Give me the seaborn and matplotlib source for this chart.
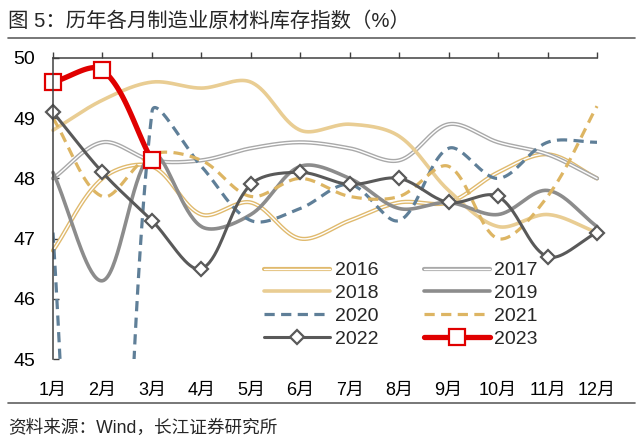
import numpy as np
import pandas as pd
import matplotlib
matplotlib.use("Agg")
import matplotlib.pyplot as plt
import seaborn as sns
from matplotlib.lines import Line2D

# data (manufacturing PMI raw material inventory index)
months = ["1月", "2月", "3月", "4月", "5月", "6月", "7月", "8月", "9月", "10月", "11月", "12月"]
y2016 = [46.8, 48.0, 48.2, 47.4, 47.6, 47.0, 47.3, 47.6, 47.6, 48.1, 48.4, 48.0]
y2017 = [48.0, 48.6, 48.3, 48.3, 48.5, 48.6, 48.5, 48.3, 48.9, 48.6, 48.4, 48.0]
y2018 = [48.8, 49.3, 49.6, 49.5, 49.6, 48.8, 48.9, 48.7, 47.8, 47.2, 47.4, 47.1]
y2019 = [48.1, 46.3, 48.4, 47.2, 47.4, 48.2, 48.0, 47.5, 47.6, 47.4, 47.8, 47.2]
y2020 = [47.1, 33.9, 49.1, 48.2, 47.3, 47.5, 47.9, 47.3, 48.5, 48.0, 48.6, 48.6]
y2021 = [49.0, 47.7, 48.4, 48.3, 47.7, 48.0, 47.7, 47.7, 48.2, 47.0, 47.7, 49.2]
y2022 = [49.1, 48.1, 47.3, 46.5, 47.9, 48.1, 47.9, 48.0, 47.6, 47.7, 46.7, 47.1]
y2023 = [49.6, 49.8, 48.3]

# pixel size of one x step / one y unit, used so the smoothing behaves like excel
SX, SY = 49.5, 60.0


def smooth(vals, n=40):
    # excel style smoothed line: bezier with control points scaled by segment length
    pts = np.column_stack([np.arange(1, len(vals) + 1) * SX, np.array(vals) * SY]).astype(float)
    pad = np.vstack([pts[0], pts, pts[-1]])
    out = []
    t = np.linspace(0, 1, n)[:, None]
    for i in range(len(pts) - 1):
        p0, p1, p2, p3 = pad[i], pad[i + 1], pad[i + 2], pad[i + 3]
        d01 = np.hypot(*(p1 - p0))
        d12 = np.hypot(*(p2 - p1))
        d23 = np.hypot(*(p3 - p2))
        c1 = p1 + (p2 - p0) * d12 / (d01 + d12) / 3
        c2 = p2 - (p3 - p1) * d12 / (d12 + d23) / 3
        seg = (1 - t) ** 3 * p1 + 3 * (1 - t) ** 2 * t * c1 + 3 * (1 - t) * t ** 2 * c2 + t ** 3 * p2
        out.append(seg if i == 0 else seg[1:])
    seg = np.vstack(out)
    return pd.DataFrame({"x": seg[:, 0] / SX, "y": seg[:, 1] / SY})


sns.set_theme(style="white")
plt.rcParams["font.family"] = ["Liberation Sans", "Noto Sans CJK SC", "DejaVu Sans"]

fig = plt.figure(figsize=(6.4, 4.43), dpi=100)
ax = fig.add_axes([53 / 640, 1 - 359 / 443, 544 / 640, 301 / 443])

tan = "#E0BA6E"
tan2 = "#E9CD93"
tan3 = "#DDB563"
grey_light = "#A9A9A9"
grey = "#8C8C8C"
blue = "#5F7F98"
dark = "#595959"
red = "#E00000"
dash = (0, (3.2, 2.0))


def draw(vals, clip=False, **kw):
    d = smooth(vals)
    sns.lineplot(data=d, x="x", y="y", ax=ax, estimator=None, sort=False, **kw)
    ax.lines[-1].set_clip_on(clip)


# 2016 double line
draw(y2016, color=tan, lw=3.0)
draw(y2016, color="white", lw=1.0)
# 2017 double line
draw(y2017, color=grey_light, lw=3.0)
draw(y2017, color="white", lw=1.0)
draw(y2018, color=tan2, lw=2.6)
draw(y2019, color=grey, lw=2.6)
draw(y2020, clip=True, color=blue, lw=2.3, linestyle=dash)
draw(y2021, color=tan3, lw=2.3, linestyle=dash)
draw(y2022, color=dark, lw=2.2)
ax.plot(np.arange(1, 13), y2022, ls="none", marker="D", ms=7.5, mfc="white", mec=dark, mew=1.6, clip_on=False)
draw(y2023, color=red, lw=3.8)
ax.plot(np.arange(1, 4), y2023, ls="none", marker="s", ms=11, mfc="white", mec=red, mew=1.6, clip_on=False)

ax.set_xlim(1, 12)
ax.set_ylim(45, 50)
ax.set_xticks(range(1, 13))
ax.set_xticklabels(months)
ax.set_yticks(range(45, 51))
ax.set_xlabel("")
ax.set_ylabel("")

for s in ["right", "bottom"]:
    ax.spines[s].set_visible(False)
for s in ["left", "top"]:
    ax.spines[s].set_color("#404040")
    ax.spines[s].set_linewidth(1.1)

ax.tick_params(axis="x", top=True, bottom=False, labeltop=False, labelbottom=True,
               direction="out", length=4, width=1, color="#404040", pad=12.5, labelsize=13, labelcolor="black")
ax.tick_params(axis="y", left=True, direction="in", length=4, width=1, color="#404040",
               pad=13, labelsize=14, labelcolor="black")


# legend
def h(color, lw, ls="-", **kw):
    return Line2D([], [], color=color, lw=lw, ls=ls, **kw)


handles = [
    (h(tan, 3.0), h("white", 1.0)),
    h(tan2, 2.6),
    h(blue, 2.3, dash),
    h(dark, 2.2, marker="D", ms=7.5, mfc="white", mec=dark, mew=1.6),
    (h(grey_light, 3.0), h("white", 1.0)),
    h(grey, 2.6),
    h(tan3, 2.3, dash),
    h(red, 3.8, marker="s", ms=11, mfc="white", mec=red, mew=1.6),
]
labels = ["2016", "2018", "2020", "2022", "2017", "2019", "2021", "2023"]
ax.legend(handles, labels, ncol=2, loc="center", bbox_to_anchor=(0.64, 0.18),
          frameon=False, fontsize=14, handlelength=3.4, handletextpad=0.25,
          columnspacing=2.3, labelspacing=0.27, borderpad=0)

fig.text(8 / 640, 1 - 21 / 443, "图 5：历年各月制造业原材料库存指数（%）", fontsize=14.7, va="center", ha="left")
fig.add_artist(Line2D([8 / 640, 635 / 640], [1 - 38 / 443] * 2, color="#606060", lw=1.2))
fig.add_artist(Line2D([8 / 640, 635 / 640], [1 - 403 / 443] * 2, color="#606060", lw=1.2))
fig.text(8 / 640, 1 - 428 / 443, "资料来源：Wind，长江证券研究所", fontsize=12.7, va="center", ha="left")

fig.savefig("out.png", dpi=100, facecolor="white")
